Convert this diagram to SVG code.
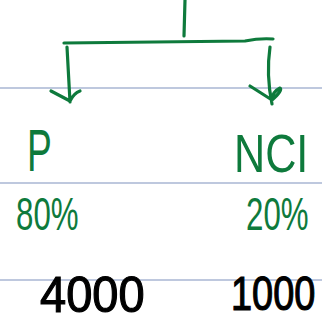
<svg xmlns="http://www.w3.org/2000/svg" width="322" height="325" viewBox="0 0 322 325">
<style>
.rule{stroke:#a9b6d3;stroke-width:1.5}
.ink{fill:none;stroke:#0e7a3c;stroke-width:3.2;stroke-linecap:round;stroke-linejoin:round}
.g{fill:#0e7a3c;font-family:"Liberation Sans",sans-serif}
.k{fill:#000;stroke:#000;stroke-width:1.2;font-family:"Liberation Sans",sans-serif}
</style>
<rect width="322" height="325" fill="#fff"/>
<g id="rules">
<line class="rule" x1="0" y1="88" x2="322" y2="88"/>
<line class="rule" x1="0" y1="183" x2="322" y2="183"/>
<line class="rule" x1="0" y1="280" x2="322" y2="280"/>
</g>
<g id="connectors">
<path class="ink" d="M185 0 L184 36"/>
<path class="ink" d="M64 43 L245 41 Q260 38 273 39"/>
<path class="ink" d="M67 47 L70 102 M51 91 L70 101 M70 101 Q74 93 80 91"/>
<path class="ink" d="M270 47 Q266 75 272 104 M250 86 L272 100 M272 100 Q283 90 280 88 Q272 92 272 100"/>
</g>
<g id="P"><text class="g" x="27" y="171" font-size="60" transform="translate(27 0) scale(0.62 1) translate(-27 0)">P</text></g>
<g id="NCI"><text class="g" x="234" y="172" font-size="54" transform="translate(234 0) scale(0.8 1) translate(-234 0)">NCI</text></g>
<g id="p80"><text class="g" x="16" y="230" font-size="46" transform="translate(16 0) scale(0.68 1) translate(-16 0)">80%</text></g>
<g id="p20"><text class="g" x="246" y="230" font-size="46" transform="translate(246 0) scale(0.68 1) translate(-246 0)">20%</text></g>
<g id="v4000"><text class="k" x="40" y="312" font-size="50" transform="translate(40 0) scale(0.94 1) translate(-40 0)">4000</text></g>
<g id="v1000"><text class="k" x="231" y="310" font-size="48" transform="translate(231 0) scale(0.79 1) translate(-231 0)">1000</text></g>
</svg>
